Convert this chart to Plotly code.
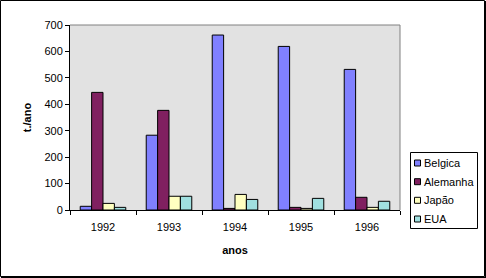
import plotly.graph_objects as go

anos = ["1992", "1993", "1994", "1995", "1996"]
belgica = [14, 283, 662, 619, 532]
alemanha = [445, 377, 6, 10, 48]
japao = [25, 52, 59, 6, 10]
eua = [10, 52, 40, 44, 33]

series = [
    ("Belgica", belgica, "#8080FF"),
    ("Alemanha", alemanha, "#802060"),
    ("Japão", japao, "#FFFFC0"),
    ("EUA", eua, "#A0E0E0"),
]

L, R, T, B = 70, 86, 25, 68
W, H = 486, 278
pw, ph = W - L - R, H - T - B


def px(x):
    return (x - L) / pw


def py(y):
    return (H - B - y) / ph


fig = go.Figure()
for name, vals, col in series:
    fig.add_trace(go.Bar(x=anos, y=vals, name=name, showlegend=False,
                         marker=dict(color=col, line=dict(color="black", width=1))))

shapes = [
    dict(type="line", xref="paper", yref="paper", x0=0, x1=1, y0=1, y1=1,
         line=dict(color="#808080", width=1)),
    dict(type="line", xref="paper", yref="paper", x0=1, x1=1, y0=0, y1=1,
         line=dict(color="#808080", width=1)),
    dict(type="rect", xref="paper", yref="paper",
         x0=px(0.5), x1=px(484.5), y0=py(276.5), y1=py(0.5),
         line=dict(color="black", width=1)),
    dict(type="line", xref="paper", yref="paper", x0=px(485.5), x1=px(485.5),
         y0=py(278), y1=py(1), line=dict(color="black", width=1)),
    dict(type="line", xref="paper", yref="paper", x0=px(1), x1=px(486),
         y0=py(277.5), y1=py(277.5), line=dict(color="black", width=1)),
    # legend box
    dict(type="rect", xref="paper", yref="paper",
         x0=px(410.5), x1=px(477.5), y0=py(228.5), y1=py(152.5),
         line=dict(color="black", width=1), fillcolor="white"),
]
annotations = []
leg_y = [163, 181.7, 200.3, 219]
for (name, vals, col), yy in zip(series, leg_y):
    shapes.append(dict(type="rect", xref="paper", yref="paper",
                       x0=px(414.5), x1=px(420.5), y0=py(yy + 3), y1=py(yy - 3),
                       line=dict(color="black", width=1), fillcolor=col))
    annotations.append(dict(xref="paper", yref="paper", x=px(421.5), y=py(yy),
                            xanchor="left", yanchor="middle", text=name,
                            showarrow=False, font=dict(size=11)))

fig.update_layout(
    width=W, height=H,
    margin=dict(l=L, r=R, t=T, b=B),
    paper_bgcolor="white",
    plot_bgcolor="#E2E2E2",
    barmode="group",
    bargap=0.31,
    bargroupgap=0,
    font=dict(family="Liberation Sans, Arial, sans-serif", size=11, color="black"),
    showlegend=False,
    xaxis=dict(type="category", showline=True, linecolor="black", linewidth=1,
               ticks="outside", tickson="boundaries", ticklen=4, tickcolor="black",
               ticklabelstandoff=7,
               showgrid=False, zeroline=False,
               title=dict(text="<b>anos</b>", font=dict(size=11), standoff=14)),
    yaxis=dict(range=[0, 700], tickvals=[0, 100, 200, 300, 400, 500, 600, 700],
               showline=True, linecolor="black", linewidth=1,
               ticks="outside", ticklen=4, tickcolor="black",
               showgrid=False, zeroline=False,
               title=dict(text="<b>t./ano</b>", font=dict(size=11), standoff=10)),
    shapes=shapes,
    annotations=annotations,
)

fig.write_html("out.html")
